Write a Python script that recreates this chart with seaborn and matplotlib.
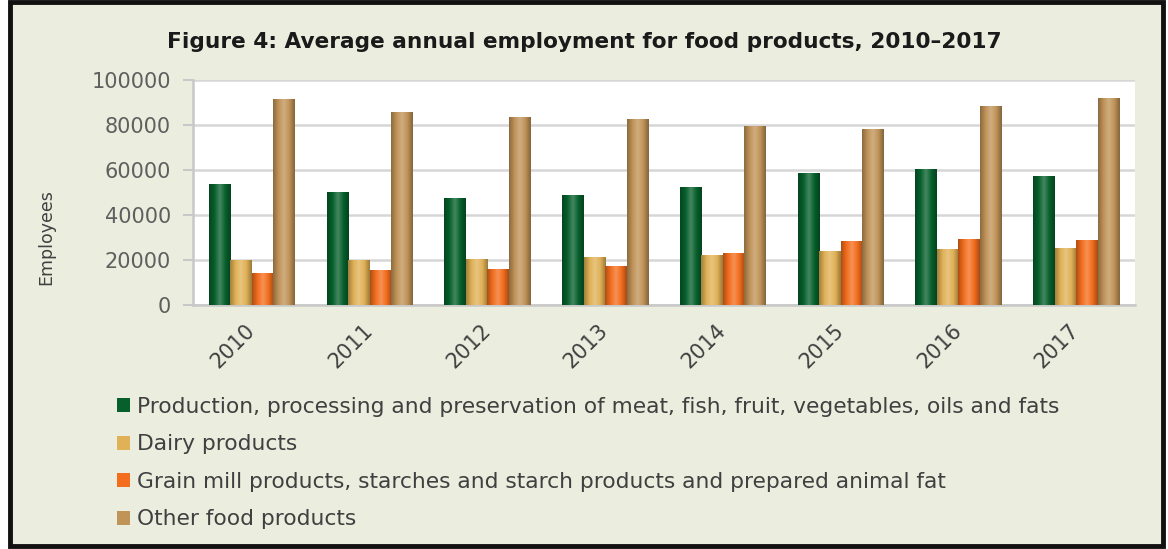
import numpy as np
import pandas as pd
import matplotlib
matplotlib.use("Agg")
import matplotlib.pyplot as plt
from matplotlib.colors import LinearSegmentedColormap, to_rgb
from matplotlib.patches import Rectangle
import seaborn as sns

# Average annual employment, food products
years = ["2010", "2011", "2012", "2013", "2014", "2015", "2016", "2017"]
series_names = [
    "Production, processing and preservation of meat, fish, fruit, vegetables, oils and fats",
    "Dairy products",
    "Grain mill products, starches and starch products and prepared animal fat",
    "Other food products",
]
meat_fish_fruit = [53800, 50100, 47400, 48900, 52600, 58500, 60600, 57500]
dairy = [20000, 20000, 20300, 21200, 22200, 24100, 25000, 25500]
grain_mill = [14400, 15600, 15900, 17300, 23300, 28400, 29500, 28900]
other_food = [91400, 85900, 83700, 82500, 79600, 78100, 88400, 91900]
y_ticks = [0, 20000, 40000, 60000, 80000, 100000]

colors = ["#07602c", "#e0b156", "#f26d1d", "#c09358"]

df = pd.DataFrame({
    "Year": years * 4,
    "Employees": meat_fish_fruit + dairy + grain_mill + other_food,
    "Series": [s for s in series_names for _ in years],
})

sns.set_theme(style="white")
plt.rcParams["font.family"] = ["DejaVu Sans"]

bg = "#ebeedf"
W, H = 1168, 549
fig = plt.figure(figsize=(W / 100, H / 100), dpi=100, facecolor="white")

# panel background with dark frame
frame = Rectangle((10 / W, 3 / H), 1153 / W, 544 / H, transform=fig.transFigure,
                  facecolor=bg, edgecolor="#111111", linewidth=3.5, zorder=-10)
fig.patches.append(frame)

ax = fig.add_axes([193 / W, 1 - 305 / H, 942 / W, 225 / H])
ax.set_facecolor("white")

sns.barplot(data=df, x="Year", y="Employees", hue="Series", palette=colors,
            width=0.73, gap=0, saturation=1, ax=ax, legend=False, zorder=3,
            linewidth=0, errorbar=None)

# cylindrical shading on each bar
def shade(base):
    r = np.array(to_rgb(base))
    dark = r * 0.72
    light = np.clip(r + (1 - r) * 0.25, 0, 1)
    return LinearSegmentedColormap.from_list("s", [dark, r, light, r, dark * 0.95])

for i, c in enumerate(colors):
    cmap = shade(c)
    for p in ax.patches[i * len(years):(i + 1) * len(years)]:
        x0, w, h = p.get_x(), p.get_width(), p.get_height()
        grad = np.linspace(0, 1, 64).reshape(1, -1)
        im = ax.imshow(grad, extent=[x0, x0 + w, 0, h], aspect="auto", cmap=cmap,
                       zorder=4, interpolation="bicubic")
        im.set_clip_path(p)

ax.set_xlim(-0.5, len(years) - 0.5)
ax.set_ylim(0, 100000)
ax.set_yticks(y_ticks)
ax.set_yticklabels([str(t) for t in y_ticks])
ax.yaxis.grid(True, color="#d6d6d6", linewidth=1.8, zorder=0)
ax.set_axisbelow(True)

for s in ["top", "right"]:
    ax.spines[s].set_visible(False)
for s in ["left", "bottom"]:
    ax.spines[s].set_color("#c8c8c8")
    ax.spines[s].set_linewidth(1.8)

ax.tick_params(axis="y", length=7, width=1.5, color="#c8c8c8", pad=9,
               labelsize=15, labelcolor="#5f5f5f", left=True)
ax.tick_params(axis="x", length=0, pad=16, labelsize=15, labelcolor="#404040")
for lbl in ax.get_xticklabels():
    lbl.set_rotation(45)
    lbl.set_ha("right")
    lbl.set_rotation_mode("anchor")
    lbl.set_va("center")

ax.set_xlabel("")
ax.set_ylabel("Employees", fontsize=12.5, color="#404040")
ax.yaxis.set_label_coords(-0.146, 0.30)

fig.text(0.5, 1 - 42 / H, "Figure 4: Average annual employment for food products, 2010\u20132017",
         ha="center", va="center", fontsize=15.6, fontweight="bold", color="#1a1a1a")

handles = [Rectangle((0, 0), 1, 1, facecolor=c, edgecolor="none") for c in colors]
leg = fig.legend(handles, series_names, loc="upper left",
                 bbox_to_anchor=(117 / W, 1 - 397 / H), frameon=False, fontsize=15.7,
                 labelcolor="#404040", handlelength=0.6, handleheight=0.6,
                 handletextpad=0.3, labelspacing=0.8, borderpad=0, borderaxespad=0)

fig.savefig("out.png", dpi=100, facecolor="white")
